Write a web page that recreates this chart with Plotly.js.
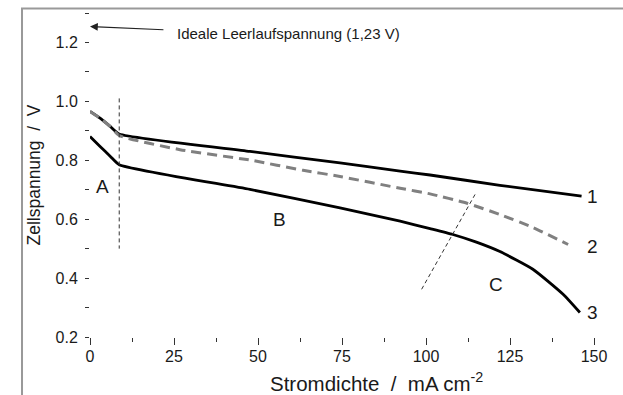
<!DOCTYPE html>
<html>
<head>
<meta charset="utf-8">
<script src="https://cdn.plot.ly/plotly-3.0.1.min.js"></script>
<style>html,body{margin:0;padding:0;background:#fff;}#chart{width:623px;height:395px;}</style>
</head>
<body>
<div id="chart"></div>
<script>
// Stromdichte (mA cm-2) and Zellspannung (V)
const curve1X = [0, 3, 6, 8.7, 47.6, 74.4, 92.3, 101.2, 122, 146.3];
const curve1Y = [0.966, 0.943, 0.915, 0.889, 0.830, 0.791, 0.763, 0.750, 0.715, 0.678];
const curve2X = [0, 3, 6, 8.7, 26.8, 48, 63.4, 74.4, 92.3, 101.2, 112.2, 122, 131.8, 142.3];
const curve2Y = [0.966, 0.943, 0.915, 0.884, 0.836, 0.800, 0.766, 0.745, 0.705, 0.686, 0.654, 0.616, 0.572, 0.514];
const curve3X = [0, 3, 6, 8.7, 47.6, 74.4, 92.3, 101.2, 108, 115, 122, 131.8, 140.8, 145.8];
const curve3Y = [0.881, 0.847, 0.814, 0.785, 0.701, 0.638, 0.593, 0.568, 0.548, 0.522, 0.490, 0.430, 0.345, 0.283];
// region boundaries
const boundaryAX = [8.7, 8.7];
const boundaryAY = [1.01, 0.50];
const boundaryCX = [98.7, 114.6];
const boundaryCY = [0.362, 0.684];
// labels
const curveLabels = ["1", "2", "3"];
const curveLabelX = [149.6, 149.6, 149.6];
const curveLabelY = [0.678, 0.508, 0.283];
const regionLabels = ["A", "B", "C"];
const regionLabelX = [3.8, 56.3, 120.7];
const regionLabelY = [0.712, 0.599, 0.379];
const idealVoltage = 1.254;
const xTickVals = [0, 25, 50, 75, 100, 125, 150];
const yTickVals = [0.2, 0.4, 0.6, 0.8, 1.0, 1.2];
const yTickText = ["0.2", "0.4", "0.6", "0.8", "1.0", "1.2"];

const FONT = "Liberation Sans, Arial, sans-serif";
const TXT = "#1a1a1a";

const traces = [
  {x: curve1X, y: curve1Y, mode: "lines", line: {color: "#000", width: 2.8, shape: "spline", smoothing: 0.5}},
  {x: curve3X, y: curve3Y, mode: "lines", line: {color: "#000", width: 2.8, shape: "spline", smoothing: 0.5}},
  {x: curve2X, y: curve2Y, mode: "lines", line: {color: "#808080", width: 3, dash: "10px,6px", shape: "spline", smoothing: 0.5}},
  {x: boundaryAX, y: boundaryAY, mode: "lines", line: {color: "#333", width: 1, dash: "4px,3px"}},
  {x: boundaryCX, y: boundaryCY, mode: "lines", line: {color: "#333", width: 1, dash: "4px,3px"}}
];

const annotations = [];
for (let i = 0; i < curveLabels.length; i++) {
  annotations.push({x: curveLabelX[i], y: curveLabelY[i], xref: "x", yref: "y", text: curveLabels[i],
    showarrow: false, xanchor: "center", yanchor: "middle", font: {family: FONT, size: 19, color: TXT}});
}
for (let i = 0; i < regionLabels.length; i++) {
  annotations.push({x: regionLabelX[i], y: regionLabelY[i], xref: "x", yref: "y", text: regionLabels[i],
    showarrow: false, xanchor: "center", yanchor: "middle", font: {family: FONT, size: 19, color: TXT}});
}
annotations.push({x: 0, y: idealVoltage, xref: "x", yref: "y", ax: 22.3, ay: 1.243, axref: "x", ayref: "y",
  text: "", showarrow: true, arrowhead: 2, arrowsize: 1.3, arrowwidth: 1.2, arrowcolor: "#222", standoff: 0});
annotations.push({x: 25.3, y: 1.232, xref: "x", yref: "y", text: "Ideale Leerlaufspannung (1,23 V)",
  showarrow: false, xanchor: "left", yanchor: "middle", font: {family: FONT, size: 15, color: TXT}});
annotations.push({x: 0.353, y: -0.139, xref: "paper", yref: "paper", text: "Stromdichte\u00a0\u00a0/\u00a0\u00a0mA cm<sup>-2</sup>",
  showarrow: false, xanchor: "left", yanchor: "middle", font: {family: FONT, size: 20.5, color: TXT}});

const layout = {
  width: 623, height: 395,
  margin: {l: 90, r: 29, t: 12.5, b: 58, pad: 0},
  paper_bgcolor: "#fff", plot_bgcolor: "#fff",
  showlegend: false,
  font: {family: FONT, color: TXT},
  xaxis: {
    range: [0, 150], tickvals: xTickVals, ticks: "outside", ticklen: 7, tickwidth: 1, tickcolor: "#333",
    showgrid: false, zeroline: false, showline: false, ticklabelstandoff: -2,
    tickfont: {family: FONT, size: 16, color: TXT},
    minor: {tickvals: [12.5, 37.5, 62.5, 87.5, 112.5, 137.5], ticks: "outside", ticklen: 4, tickwidth: 1, tickcolor: "#333", showgrid: false}
  },
  yaxis: {
    range: [0.2, 1.3], tickvals: yTickVals, ticktext: yTickText, ticks: "outside", ticklen: 4, tickwidth: 1, tickcolor: "#333",
    showgrid: false, zeroline: false, showline: false, ticklabelstandoff: 4,
    tickfont: {family: FONT, size: 16, color: TXT},
    minor: {tickvals: [0.3, 0.5, 0.7, 0.9, 1.1, 1.3], ticks: "outside", ticklen: 4, tickwidth: 1, tickcolor: "#333", showgrid: false},
    title: {text: "Zellspannung\u00a0\u00a0/\u00a0\u00a0V", standoff: 10, font: {family: FONT, size: 17.5, color: TXT}}
  },
  annotations: annotations,
  shapes: [{type: "rect", xref: "paper", yref: "paper", x0: -0.1349, x1: 1.08, y0: -0.2, y1: 1.0139,
    line: {color: "#999", width: 2}, fillcolor: "rgba(0,0,0,0)", layer: "below"}]
};

Plotly.newPlot("chart", traces, layout, {displayModeBar: false, staticPlot: true});
</script>
</body>
</html>
